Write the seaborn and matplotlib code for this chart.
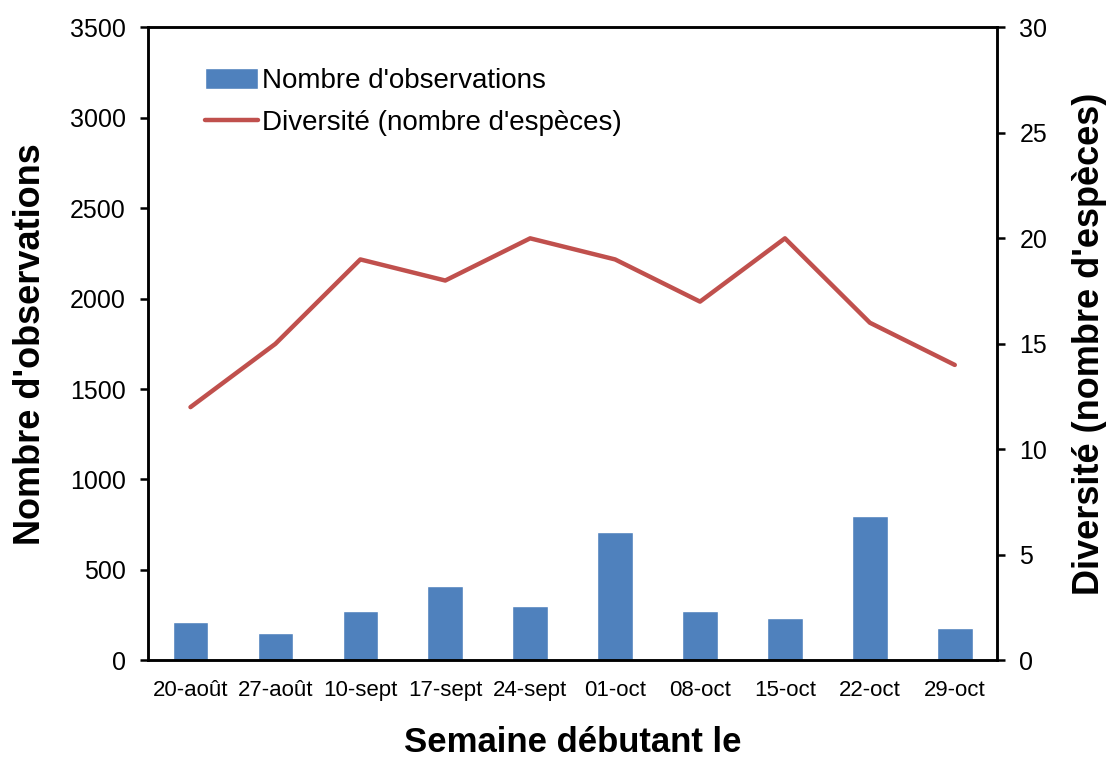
import numpy as np
import pandas as pd
import matplotlib
matplotlib.use("Agg")
import matplotlib.pyplot as plt
import seaborn as sns

# Data
semaines = ["20-août", "27-août", "10-sept", "17-sept", "24-sept",
            "01-oct", "08-oct", "15-oct", "22-oct", "29-oct"]
observations = [210, 150, 270, 410, 300, 710, 270, 235, 800, 180]
diversite = [12, 15, 19, 18, 20, 19, 17, 20, 16, 14]

df = pd.DataFrame({
    "Semaine": semaines,
    "Observations": observations,
    "Diversite": diversite,
})

sns.set_style("white")
plt.rcParams["font.family"] = ["Liberation Sans", "DejaVu Sans"]
plt.rcParams["text.color"] = "black"
plt.rcParams["axes.labelcolor"] = "black"
plt.rcParams["xtick.color"] = "black"
plt.rcParams["ytick.color"] = "black"

fig = plt.figure(figsize=(11.13, 7.59), dpi=100)
ax = fig.add_axes([0.133, 0.130, 0.763, 0.834])

sns.barplot(data=df, x="Semaine", y="Observations", color="#4F81BD",
            saturation=1, width=0.42, ax=ax, label="Nombre d'observations")

ax2 = ax.twinx()
sns.lineplot(x=np.arange(len(semaines)), y=df["Diversite"], color="#C0504D",
             linewidth=3.2, ax=ax2, label="Diversité (nombre d'espèces)")

ax.set_xlim(-0.5, 9.5)
ax.set_ylim(0, 3500)
ax.set_yticks(range(0, 3501, 500))
ax2.set_ylim(0, 30)
ax2.set_yticks(range(0, 31, 5))

for a in (ax, ax2):
    for s in a.spines.values():
        s.set_linewidth(1.8)
        s.set_color("black")
    a.tick_params(axis="both", direction="out", length=6, width=1.8,
                  labelsize=18, color="black", labelcolor="black", pad=10)

ax.set_xticks(range(len(semaines)))
ax.set_xticklabels(semaines, fontsize=16)
ax.tick_params(axis="x", pad=8)

ax.set_xlabel("Semaine débutant le", fontsize=25, fontweight="bold", labelpad=18)
ax.set_ylabel("Nombre d'observations", fontsize=26, fontweight="bold", labelpad=16)
ax2.set_ylabel("Diversité (nombre d'espèces)", fontsize=26, fontweight="bold", labelpad=18)

# combined legend
h1, l1 = ax.get_legend_handles_labels()
h2, l2 = ax2.get_legend_handles_labels()
for a in (ax, ax2):
    if a.get_legend():
        a.get_legend().remove()
ax2.legend(h1 + h2, l1 + l2, loc="upper left", bbox_to_anchor=(0.038, 0.975),
           frameon=False, fontsize=20, handlelength=1.9, handleheight=0.8,
           handletextpad=0.15, labelspacing=0.55)

fig.savefig("out.png", dpi=100)
